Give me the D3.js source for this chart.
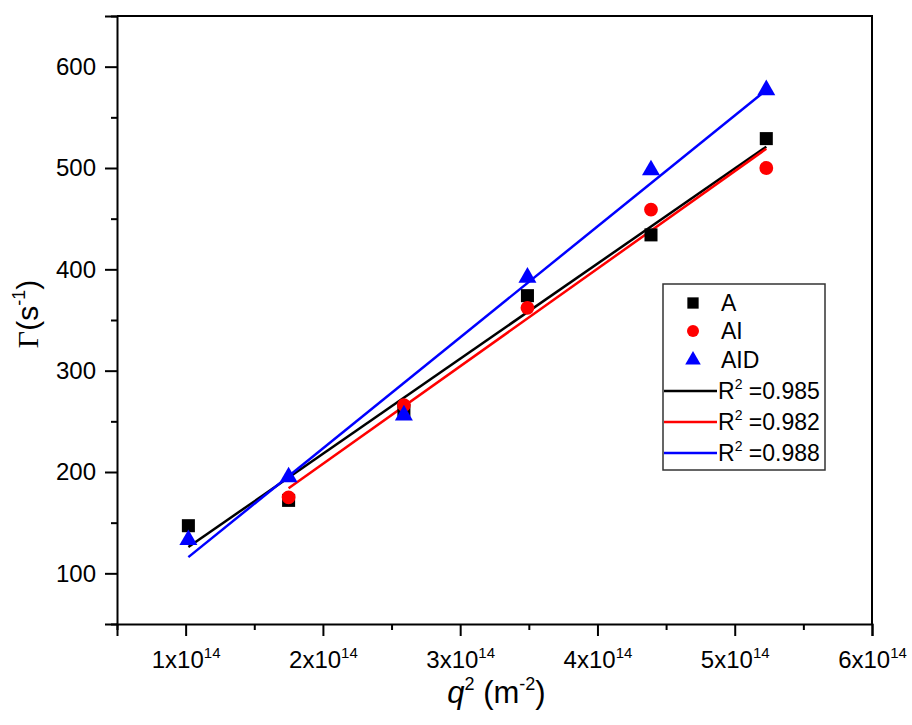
<!DOCTYPE html>
<html>
<head>
<meta charset="utf-8">
<script src="https://cdn.jsdelivr.net/npm/d3@7"></script>
<style>
  body { margin: 0; background: #fff; }
  text { font-family: "Liberation Sans", Arial, sans-serif; fill: #000; }
</style>
</head>
<body>
<div id="chart"></div>
<script>
// q^2 positions (m^-2)
const qA = [1.02e14, 1.75e14, 2.59e14, 3.49e14, 4.39e14, 5.23e14];
const qAI = [1.75e14, 2.59e14, 3.49e14, 4.39e14, 5.23e14];
const qAID = [1.02e14, 1.75e14, 2.59e14, 3.49e14, 4.39e14, 5.23e14];

// Gamma (s^-1)
const gammaA = [147, 172, 261, 374, 434, 529];
const gammaAI = [175, 266, 362, 459, 500];
const gammaAID = [133, 195, 256, 392, 498, 577];

// linear fit end points
const fitQA = [1.02e14, 5.23e14];
const fitA = [126, 521];
const fitQAI = [1.75e14, 5.23e14];
const fitAI = [184, 519];
const fitQAID = [1.02e14, 5.23e14];
const fitAID = [116, 577];

const legendNames = ["A", "AI", "AID"];
const legendR2 = ["0.985", "0.982", "0.988"];

const xMajor = [1e14, 2e14, 3e14, 4e14, 5e14, 6e14];
const xMinor = [0.5e14, 1.5e14, 2.5e14, 3.5e14, 4.5e14, 5.5e14];
const yMajor = [100, 200, 300, 400, 500, 600];
const yMinor = [50, 150, 250, 350, 450, 550, 650];

var svgWidth = 912, svgHeight = 725;
var mLeft = 117, mRight = 872, mTop = 16, mBottom = 624;

var svg = d3.select("#chart").append("svg")
  .attr("width", svgWidth)
  .attr("height", svgHeight);

var x = d3.scaleLinear().domain([0.5e14, 6e14]).range([mLeft, mRight]);
var y = d3.scaleLinear().domain([50, 650]).range([mBottom, mTop]);

// axes
var xAxis = svg.append("g")
  .attr("transform", "translate(0," + mBottom + ")")
  .call(d3.axisBottom(x).tickValues(xMajor).tickSize(12).tickFormat(""));
svg.append("g")
  .attr("transform", "translate(0," + mBottom + ")")
  .call(d3.axisBottom(x).tickValues(xMinor).tickSize(6).tickFormat(""))
  .select(".domain").remove();

var yAxis = svg.append("g")
  .attr("transform", "translate(" + mLeft + ",0)")
  .call(d3.axisLeft(y).tickValues(yMajor).tickSize(12).tickPadding(9));
svg.append("g")
  .attr("transform", "translate(" + mLeft + ",0)")
  .call(d3.axisLeft(y).tickValues(yMinor).tickSize(6).tickFormat(""))
  .select(".domain").remove();

svg.selectAll(".domain").attr("stroke-width", 2).attr("stroke", "#000");
svg.selectAll(".tick line").attr("stroke-width", 2).attr("stroke", "#000");
yAxis.selectAll(".tick text").style("font-size", "24px").attr("fill", "#000");

// x tick labels as 1x10^14 etc
xAxis.selectAll(".tick").each(function(d) {
  var t = d3.select(this).append("text")
    .attr("y", 44)
    .attr("text-anchor", "middle")
    .style("font-size", "24px");
  t.append("tspan").text(Math.round(d / 1e14) + "x10");
  t.append("tspan").attr("dy", -10).style("font-size", "15px").text("14");
});

// frame top and right
svg.append("path")
  .attr("d", d3.line()([[mLeft, mTop], [mRight, mTop], [mRight, mBottom]]))
  .attr("fill", "none")
  .attr("stroke", "#000")
  .attr("stroke-width", 2);

// fit lines
var line = d3.line().x(d => x(d[0])).y(d => y(d[1]));
var fits = [
  { q: fitQA, v: fitA, color: "#000" },
  { q: fitQAI, v: fitAI, color: "#ff0000" },
  { q: fitQAID, v: fitAID, color: "#0000ff" }
];
fits.forEach(function(f) {
  svg.append("path")
    .datum(d3.zip(f.q, f.v))
    .attr("d", line)
    .attr("fill", "none")
    .attr("stroke", f.color)
    .attr("stroke-width", 2.5);
});

// markers
var sym = [
  { q: qA, v: gammaA, type: d3.symbolSquare, size: 170, color: "#000" },
  { q: qAI, v: gammaAI, type: d3.symbolCircle, size: 150, color: "#ff0000" },
  { q: qAID, v: gammaAID, type: d3.symbolTriangle, size: 140, color: "#0000ff" }
];
sym.forEach(function(s) {
  svg.append("g").selectAll("path")
    .data(d3.zip(s.q, s.v))
    .enter()
    .append("path")
    .attr("d", d3.symbol().type(s.type).size(s.size))
    .attr("transform", d => "translate(" + x(d[0]) + "," + y(d[1]) + ")")
    .attr("fill", s.color);
});

// legend
var lg = svg.append("g");
lg.append("rect")
  .attr("x", 663).attr("y", 284)
  .attr("width", 162).attr("height", 186)
  .attr("fill", "#fff")
  .attr("stroke", "#333")
  .attr("stroke-width", 1.5);

var rowY = [303, 331, 360, 390, 421, 452];
sym.forEach(function(s, i) {
  lg.append("path")
    .attr("d", d3.symbol().type(s.type).size(s.size * 0.75))
    .attr("transform", "translate(693," + rowY[i] + ")")
    .attr("fill", s.color);
  lg.append("text")
    .attr("x", 721).attr("y", rowY[i] + 8)
    .style("font-size", "23px")
    .text(legendNames[i]);
});
fits.forEach(function(f, i) {
  var ry = rowY[i + 3];
  lg.append("line")
    .attr("x1", 664).attr("x2", 717)
    .attr("y1", ry + 1).attr("y2", ry + 1)
    .attr("stroke", f.color)
    .attr("stroke-width", 2.5);
  var t = lg.append("text")
    .attr("x", 718).attr("y", ry + 9)
    .style("font-size", "23px");
  t.append("tspan").text("R");
  t.append("tspan").attr("dy", -10).style("font-size", "14px").text("2");
  t.append("tspan").attr("dy", 10).text(" =" + legendR2[i]);
});

// axis titles
var yt = svg.append("text")
  .attr("transform", "translate(38,314) rotate(-90)")
  .attr("text-anchor", "middle")
  .style("font-size", "30px");
yt.append("tspan").style("font-family", "'Liberation Serif', 'Times New Roman', serif").text("Γ");
yt.append("tspan").text("(s");
yt.append("tspan").attr("dy", -13).style("font-size", "18px").text("-1");
yt.append("tspan").attr("dy", 13).text(")");

var xt = svg.append("text")
  .attr("x", (mLeft + mRight) / 2 + 2)
  .attr("y", 703)
  .attr("text-anchor", "middle")
  .style("font-size", "31px");
xt.append("tspan").style("font-style", "italic").text("q");
xt.append("tspan").attr("dy", -13).style("font-size", "18px").text("2");
xt.append("tspan").attr("dy", 13).text(" (m");
xt.append("tspan").attr("dy", -13).style("font-size", "18px").text("-2");
xt.append("tspan").attr("dy", 13).text(")");
</script>
</body>
</html>
